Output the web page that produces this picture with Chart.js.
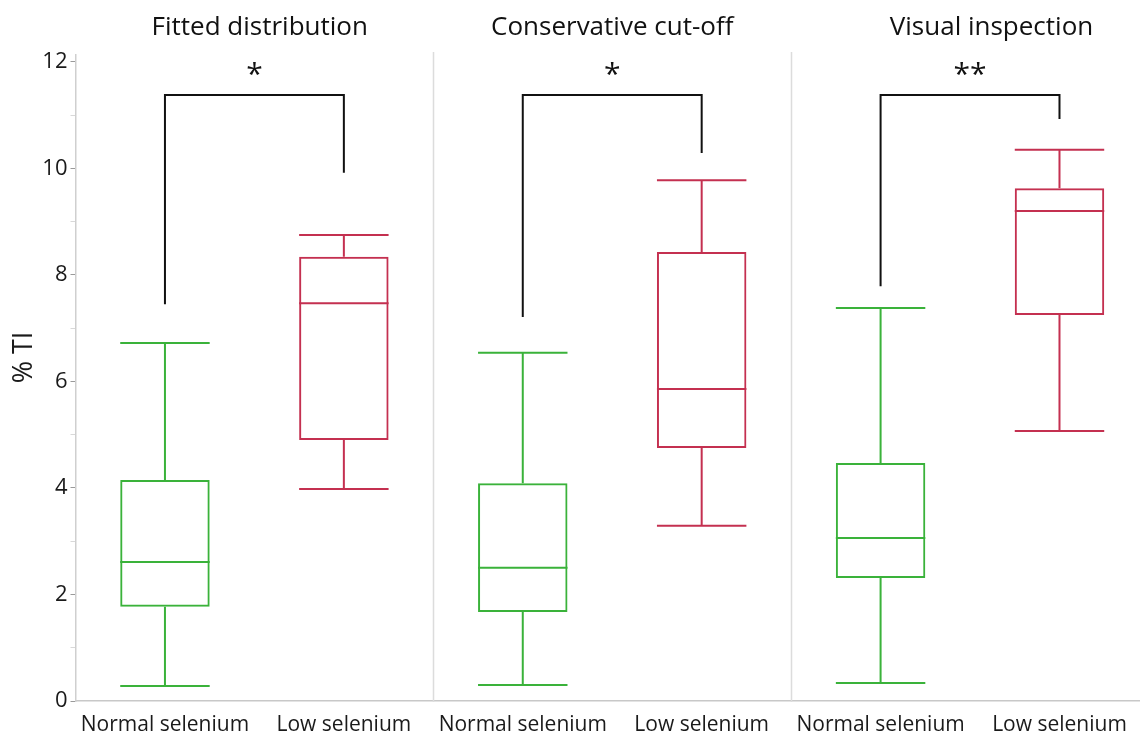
<!DOCTYPE html>
<html>
<head>
<meta charset="utf-8">
<script src="https://cdn.jsdelivr.net/npm/chart.js@4.4.1/dist/chart.umd.min.js"></script>
<style>
  html, body { margin: 0; padding: 0; background: #ffffff; }
  #wrap { position: relative; width: 1140px; height: 731px; }
  canvas { display: block; }
</style>
</head>
<body>
<div id="wrap"><canvas id="chart" width="1140" height="731"></canvas></div>
<script>
// Groups, two per method panel
const categories = ['Normal selenium', 'Low selenium', 'Normal selenium', 'Low selenium', 'Normal selenium', 'Low selenium'];
const panelTitles = ['Fitted distribution', 'Conservative cut-off', 'Visual inspection'];
const yAxisTitle = '% TI';

// Box-plot summaries (% TI)
const whiskerLow  = [0.28, 3.98, 0.30, 3.29, 0.34, 5.07];
const q1          = [1.77, 4.90, 1.67, 4.75, 2.31, 7.25];
const median      = [2.61, 7.47, 2.50, 5.86, 3.06, 9.20];
const q3          = [4.15, 8.34, 4.09, 8.43, 4.47, 9.63];
const whiskerHigh = [6.72, 8.75, 6.54, 9.78, 7.38, 10.35];

// Significance brackets, one per panel
const bracketTop   = [11.38, 11.38, 11.38];
const bracketLeft  = [7.45, 7.21, 7.79];
const bracketRight = [9.92, 10.29, 10.93];
const significance = ['*', '*', '**'];

const yTickValues = [0, 1, 2, 3, 4, 5, 6, 7, 8, 9, 10, 11, 12];

const GREEN = 'rgb(58,178,58)';
const RED = 'rgb(196,48,80)';
const groupColors = categories.map((c, i) => (i % 2 === 0 ? GREEN : RED));

const FONT = '"Open Sans", "Noto Sans", sans-serif';

const boxData = categories.map((c, i) => ({ x: i, y: [q1[i], q3[i]] }));

// Whiskers, medians, panel dividers, brackets, axis title and panel titles
const boxExtras = {
  id: 'boxExtras',
  afterDatasetsDraw(chart) {
    const { ctx, chartArea, scales } = chart;
    const xs = scales.x, ys = scales.y;
    const meta = chart.getDatasetMeta(0);
    ctx.save();

    // panel dividers
    ctx.strokeStyle = '#dcdcdc';
    ctx.lineWidth = 1.5;
    [1.5, 3.5].forEach(v => {
      const px = Math.round(xs.getPixelForValue(v)) + 0.5;
      ctx.beginPath();
      ctx.moveTo(px, chartArea.top - 3);
      ctx.lineTo(px, chartArea.bottom + 1);
      ctx.stroke();
    });

    // whiskers and medians
    meta.data.forEach((bar, i) => {
      const half = bar.width / 2;
      const cx = bar.x;
      const yLow = ys.getPixelForValue(whiskerLow[i]);
      const yHigh = ys.getPixelForValue(whiskerHigh[i]);
      const yQ1 = ys.getPixelForValue(q1[i]);
      const yQ3 = ys.getPixelForValue(q3[i]);
      const yMed = ys.getPixelForValue(median[i]);
      ctx.strokeStyle = groupColors[i];
      ctx.lineWidth = 2;
      ctx.beginPath();
      ctx.moveTo(cx, yQ1); ctx.lineTo(cx, yLow);
      ctx.moveTo(cx - half, yLow); ctx.lineTo(cx + half, yLow);
      ctx.moveTo(cx, yQ3); ctx.lineTo(cx, yHigh);
      ctx.moveTo(cx - half, yHigh); ctx.lineTo(cx + half, yHigh);
      ctx.moveTo(cx - half, yMed); ctx.lineTo(cx + half, yMed);
      ctx.stroke();
    });

    // significance brackets
    ctx.strokeStyle = '#111';
    ctx.lineWidth = 2;
    ctx.fillStyle = '#111';
    ctx.textAlign = 'center';
    ctx.textBaseline = 'middle';
    ctx.font = '30px ' + FONT;
    panelTitles.forEach((t, p) => {
      const xl = xs.getPixelForValue(2 * p);
      const xr = xs.getPixelForValue(2 * p + 1);
      const yt = ys.getPixelForValue(bracketTop[p]);
      ctx.beginPath();
      ctx.moveTo(xl, ys.getPixelForValue(bracketLeft[p]));
      ctx.lineTo(xl, yt);
      ctx.lineTo(xr, yt);
      ctx.lineTo(xr, ys.getPixelForValue(bracketRight[p]));
      ctx.stroke();
      ctx.fillText(significance[p], (xl + xr) / 2, yt - 19);
    });

    // panel titles
    ctx.font = '26px ' + FONT;
    ctx.fillStyle = '#111';
    const titleCenters = [0.53, 2.5, 4.62];
    panelTitles.forEach((t, p) => {
      ctx.fillText(t, xs.getPixelForValue(titleCenters[p]), 28);
    });

    // y-axis title
    ctx.save();
    ctx.translate(24, ys.getPixelForValue(6.45));
    ctx.rotate(-Math.PI / 2);
    ctx.font = '27px ' + FONT;
    ctx.fillStyle = '#1a1a1a';
    ctx.fillText(yAxisTitle, 0, 0);
    ctx.restore();

    ctx.restore();
  }
};

new Chart(document.getElementById('chart'), {
  type: 'bar',
  data: {
    datasets: [{
      data: boxData,
      backgroundColor: 'rgba(0,0,0,0)',
      borderColor: groupColors,
      borderWidth: 2,
      borderSkipped: false,
      barPercentage: 0.5,
      categoryPercentage: 1
    }]
  },
  options: {
    responsive: false,
    maintainAspectRatio: false,
    animation: false,
    devicePixelRatio: 1,
    layout: { padding: { top: 55, left: 0, right: 0, bottom: 0 } },
    plugins: { legend: { display: false }, tooltip: { enabled: false } },
    scales: {
      x: {
        type: 'linear',
        offset: false,
        min: -0.5,
        max: 5.45,
        afterBuildTicks(scale) { scale.ticks = categories.map((c, i) => ({ value: i })); },
        afterFit(scale) { scale.height = 30; },
        ticks: {
          autoSkip: false,
          maxRotation: 0,
          padding: 3,
          color: '#1a1a1a',
          font: { family: FONT, size: 21 },
          callback: (v) => categories[v]
        },
        grid: { display: false, offset: false },
        border: { display: true, color: '#c8c8c8', width: 1.5 }
      },
      y: {
        min: 0,
        max: 12.13,
        afterBuildTicks(scale) { scale.ticks = yTickValues.map(v => ({ value: v })); },
        afterFit(scale) { scale.width = 75.5; },
        ticks: {
          padding: 3,
          color: '#1a1a1a',
          font: { family: FONT, size: 22 },
          callback: (v) => (v % 2 === 0 ? String(v) : '')
        },
        grid: {
          drawOnChartArea: false,
          drawTicks: true,
          tickLength: 5,
          color: (c) => (c.tick && c.tick.value % 2 === 0 ? '#9a9a9a' : '#d8d8d8')
        },
        border: { display: true, color: '#cfcfcf', width: 1.5 },
        title: { display: false }
      }
    }
  },
  plugins: [boxExtras]
});
</script>
</body>
</html>
